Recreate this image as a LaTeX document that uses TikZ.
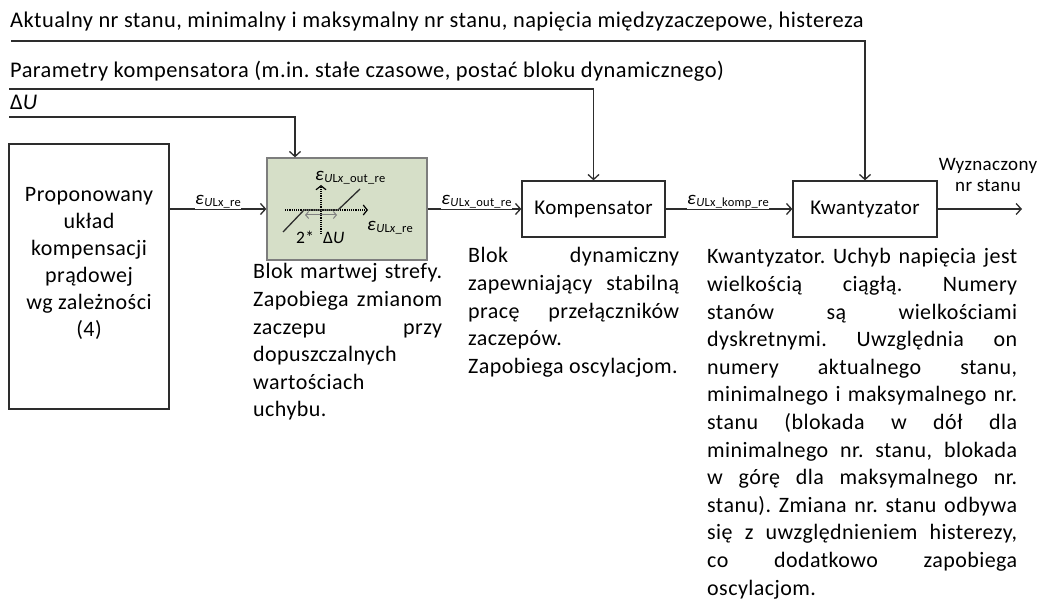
\documentclass[tikz,border=0pt]{standalone}
\usepackage{fontspec}
\setmainfont{Carlito}[LetterSpace=2]
\usetikzlibrary{arrows.meta,calc}

\definecolor{ln}{RGB}{45,45,45}
\definecolor{dzfill}{RGB}{214,223,200}
\definecolor{dzdraw}{RGB}{125,125,125}

% error symbol with a small subscript
\newcommand{\epsl}[2][19]{{\fontsize{#1}{#1}\selectfont\textit{ε}}\raisebox{-0.45ex}{\fontsize{12.5}{12.5}\selectfont #2}}

\hbadness=10000
\tolerance=10000
\frenchspacing

\begin{document}
\begin{tikzpicture}[x=1pt,y=-1pt,
  >={Straight Barb[length=5pt,width=11pt]},
  body/.style={font=\fontsize{22}{27.6}\selectfont},
  blk/.style={draw=ln, line width=1.3pt, inner sep=0pt, font=\fontsize{21}{25}\selectfont},
  conn/.style={draw=ln, line width=1.3pt, ->},
  elabel/.style={fill=white, inner sep=0.5pt, yshift=7pt},
  desc/.style={anchor=base west, inner sep=0pt, align=justify, body},
  topline/.style={anchor=base west, inner sep=0pt, font=\fontsize{22.4}{26}\selectfont}]

\useasboundingbox (0,0) rectangle (1038,601);

% ---- signal sources at the top ----
\node[topline] (t1) at (10,28) {Aktualny nr stanu, minimalny i maksymalny nr stanu, napięcia międzyzaczepowe, histereza};
\node[topline] (t2) at (10,78) {Parametry kompensatora (m.in. stałe czasowe, postać bloku dynamicznego)};
\node[topline] (t3) at (10,110) {Δ\textit{U}};

% ---- blocks ----
\node[blk, minimum width=160pt, minimum height=265pt] (src) at (89,276.5) {};
\node[inner sep=0pt, align=center, anchor=base, font=\fontsize{22}{27}\selectfont] (srctext) at (89,337)
  {Proponowany\\układ\\kompensacji\\prądowej\\wg zależności\\(4)};

\node[blk, fill=dzfill, draw=dzdraw, minimum width=160pt, minimum height=102pt] (dz) at (347,209) {};
\node[blk, minimum width=143pt, minimum height=56pt] (komp) at (593.5,209) {Kompensator};
\node[blk, minimum width=144pt, minimum height=56pt] (kw) at (865,209) {Kwantyzator};

% ---- dead-zone characteristic ----
\draw[densely dotted, line width=1.2pt, -{Straight Barb[length=4pt,width=10pt]}] (285,210) -- (368,210);
\draw[densely dotted, line width=1.2pt, -{Straight Barb[length=4pt,width=10pt]}] (321,234) -- (321,185);
\draw[ln, line width=1.3pt] (283,232) -- (304,210) -- (338,210) -- (360,189);
\draw[gray, line width=1pt, {Straight Barb[length=3pt,width=7pt]}-{Straight Barb[length=3pt,width=7pt]}] (305,215) -- (337,215);
\node[inner sep=0pt, anchor=west, font=\fontsize{17.5}{17.5}\selectfont] (twodu) at (296,237) {2*\hspace{9pt}Δ\textit{U}};
\node[inner sep=0pt, anchor=west] (yax) at (315,178) {\epsl{\textit{U}L\textit{x}\_out\_re}};
\node[inner sep=0pt, anchor=west] (xax) at (367,228) {\epsl{\textit{U}L\textit{x}\_re}};

% ---- parameter lines ----
\coordinate (a1) at (11,41);
\coordinate (a2) at (9,89);
\coordinate (a3) at (9,117);
\draw[conn] (a1) -| (kw.north);
\draw[conn] (a2) -| (komp.north);
\draw[conn] (a3) -| ([xshift=-52pt]dz.north);

% ---- signal path ----
\draw[conn] (src.east |- dz.west) -- (dz.west)
  node[midway, elabel] {\epsl{\textit{U}Lx\_re}};
\draw[conn] (dz.east) -- (komp.west)
  node[midway, elabel, xshift=2pt] {\epsl{\textit{U}Lx\_out\_re}};
\draw[conn] (komp.east) -- (kw.west)
  node[midway, elabel, xshift=-1pt] {\epsl{\textit{U}Lx\_komp\_re}};
\coordinate (out) at (1022,209);
\draw[conn] (kw.east) -- (out);
\node[inner sep=0pt, align=center, anchor=base, font=\fontsize{19}{21}\selectfont] (outtext) at (988,192)
  {Wyznaczony\\nr stanu};

% ---- block descriptions ----
\node[desc, text width=189pt] (dzdesc) at (253,279)
  {Blok martwej strefy.\linebreak Zapobiega zmianom\linebreak zaczepu przy\linebreak
   dopuszczalnych\newline wartościach\newline uchybu.};
\node[desc, text width=211pt] (kompdesc) at (468,263)
  {Blok dynamiczny\linebreak zapewniający stabilną\linebreak pracę przełączników\linebreak
   zaczepów.\newline Zapobiega oscylacjom.};
\node[desc, text width=310pt] (kwdesc) at (707,264)
  {Kwantyzator. Uchyb napięcia jest\linebreak wielkością ciągłą. Numery\linebreak
   stanów są wielkościami\linebreak dyskretnymi. Uwzględnia on\linebreak
   numery aktualnego stanu,\linebreak minimalnego i maksymalnego nr.\linebreak
   stanu (blokada w dół dla\linebreak minimalnego nr. stanu, blokada\linebreak
   w górę dla maksymalnego nr.\linebreak stanu). Zmiana nr. stanu odbywa\linebreak
   się z uwzględnieniem histerezy,\linebreak co dodatkowo zapobiega\linebreak
   oscylacjom.};
\end{tikzpicture}
\end{document}
